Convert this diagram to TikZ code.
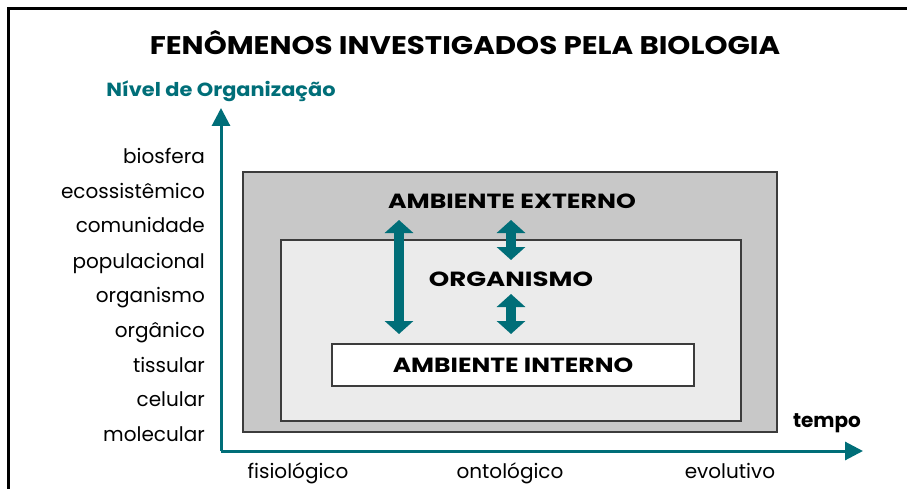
\documentclass[tikz,border=0pt]{standalone}
\usepackage{graphicx}
\usepackage{fontspec}
\setmainfont{Poppins}
\usetikzlibrary{arrows.meta}
\definecolor{tealc}{RGB}{0,110,120}
\definecolor{outerg}{RGB}{200,200,200}
\definecolor{innerg}{RGB}{235,235,235}
\definecolor{edgeg}{RGB}{60,60,60}
\newcommand\hstretch[2]{\scalebox{#1}[1]{#2}}
\tikzset{
  lvl/.style={anchor=base east, font=\fontsize{20}{20}\selectfont, inner sep=0pt},
  tlab/.style={anchor=base, font=\fontsize{20}{20}\selectfont, inner sep=0pt},
  boxlab/.style={anchor=center, font=\bfseries\fontsize{20.5}{20.5}\selectfont, inner sep=0pt},
  axis/.style={draw=tealc, line width=3pt, -{Triangle[width=18pt,length=18pt]}},
  dbl/.style={draw=tealc, line width=10pt, {Triangle[width=28pt,length=13pt]}-{Triangle[width=28pt,length=13pt]}},
  area/.style={draw=edgeg, line width=1.5pt}
}
\begin{document}
\begin{tikzpicture}[x=1pt,y=-1pt]
\useasboundingbox (0,0) rectangle (907,489);
% frame
\draw[line width=3pt] (8,489) -- (8,9) -- (907,9);
% title
\node[font=\bfseries\fontsize{25.5}{25.5}\selectfont, inner sep=0pt] (title) at (465,43) {\hstretch{1.15}{FENÔMENOS INVESTIGADOS PELA BIOLOGIA}};
\node[font=\bfseries\fontsize{19}{19}\selectfont, text=tealc, inner sep=0pt] (ylab) at (221,91) {\hstretch{1.1}{Nível de Organização}};
% boxes
\path[area, fill=outerg] (243,172) rectangle (777,432);
\node[boxlab] (ext) at (512,201) {\hstretch{1.23}{AMBIENTE EXTERNO}};
\path[area, fill=innerg] (281,240) rectangle (741,421);
\node[boxlab] (org) at (511,279) {\hstretch{1.27}{ORGANISMO}};
\node[area, fill=white, minimum width=362pt, minimum height=42pt, inner sep=0pt] (intbox) at (513,365) {};
\node[boxlab] (int) at (intbox.center) {\hstretch{1.22}{AMBIENTE INTERNO}};
% arrows
\coordinate (b1) at (399,220);
\coordinate (b2) at (399,334);
\coordinate (s1) at (511,220);
\coordinate (s2) at (511,260);
\coordinate (s3) at (511,294);
\coordinate (s4) at (511,334);
\draw[dbl] (b1) -- (b2);
\draw[dbl] (s1) -- (s2);
\draw[dbl] (s3) -- (s4);
% axes
\coordinate (o) at (221,451);
\coordinate (ytip) at (221,108);
\coordinate (xtip) at (863,451);
\draw[axis] (o) -- (ytip);
\draw[axis] (o) -- (xtip);
% levels
\node[lvl] (l1) at (205,164) {biosfera};
\node[lvl] (l2) at (205,198.5) {ecossistêmico};
\node[lvl] (l3) at (205,233) {comunidade};
\node[lvl] (l4) at (205,268) {populacional};
\node[lvl] (l5) at (205,302.5) {organismo};
\node[lvl] (l6) at (205,337) {orgânico};
\node[lvl] (l7) at (205,372) {tissular};
\node[lvl] (l8) at (205,406.5) {celular};
\node[lvl] (l9) at (205,441) {molecular};
% time
\node[tlab, font=\bfseries\fontsize{20}{20}\selectfont] (tempo) at (827,427) {tempo};
\node[tlab] (t1) at (298,478) {fisiológico};
\node[tlab] (t2) at (510,478) {ontológico};
\node[tlab] (t3) at (730,478) {evolutivo};
\end{tikzpicture}
\end{document}
